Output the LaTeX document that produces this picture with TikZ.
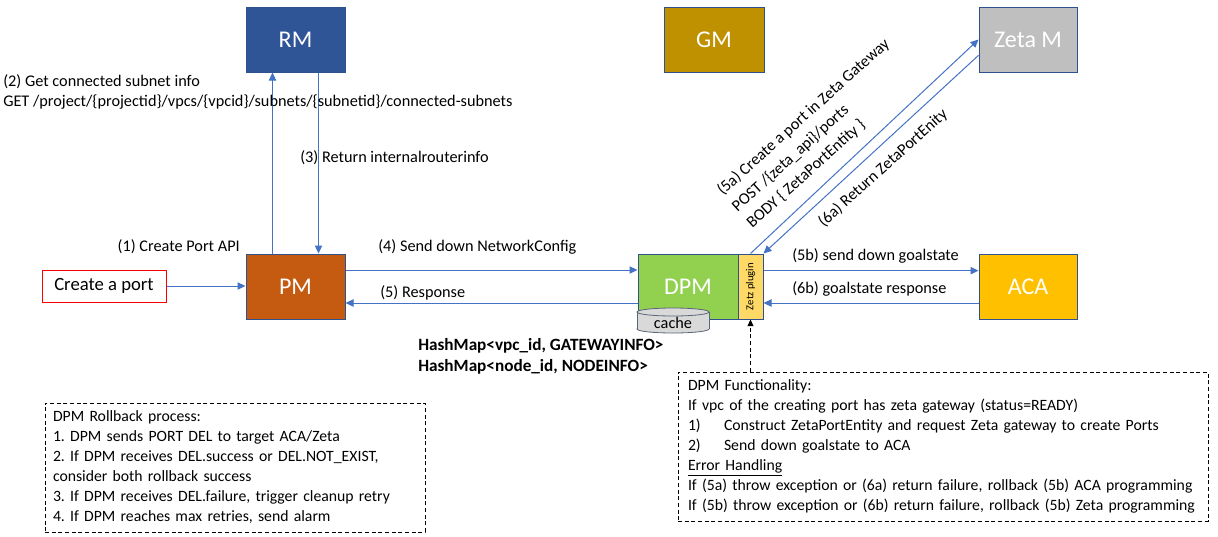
\documentclass[tikz,border=0pt]{standalone}
\usepackage{fontspec}
\setmainfont{Carlito}
\usepackage{xcolor}
\usepackage{tikz}
\usetikzlibrary{arrows.meta}
\usetikzlibrary{calc}
\definecolor{rmblue}{HTML}{2F5597}
\definecolor{edgeblue}{HTML}{2F528F}
\definecolor{pmorange}{HTML}{C55A11}
\definecolor{gmgold}{HTML}{BF9000}
\definecolor{zetagray}{HTML}{BFBFBF}
\definecolor{dpmgreen}{HTML}{92D050}
\definecolor{pluginyellow}{HTML}{FFD966}
\definecolor{acayellow}{HTML}{FFC000}
\definecolor{flowblue}{HTML}{4472C4}
\definecolor{cachegray}{HTML}{D9D9D9}
\definecolor{cacheedge}{HTML}{5B6778}
\frenchspacing
\newcommand{\blockbox}[7]{
	\node[block, fill=#6, minimum width={(#4-#2)*0.75pt}, minimum height={(#5-#3)*0.75pt}]
	(#1) at ({(#2+#4)/2}, {(#3+#5)/2}) {#7};
	}

\begin{document}
\begin{tikzpicture}[x=0.75pt, y=-0.75pt,
	block/.style={draw=edgeblue, line width=0.75pt, inner sep=0pt, text=white, font=\fontsize{18}{21}\selectfont},
	flow/.style={flowblue, line width=0.75pt, -{Triangle[length=6pt, width=5.5pt]}},
	lbl/.style={font=\fontsize{12.2}{15}\selectfont, inner sep=0pt, align=left},
	note/.style={draw, line width=0.6pt, dash pattern=on 3pt off 2pt, align=left, inner ysep=0pt, font=\fontsize{11.8}{15}\selectfont}]

	\useasboundingbox (0,0) rectangle (1218,536);

	% components
	\blockbox{RM}{246}{7}{345}{72}{rmblue}{RM}
	\blockbox{GM}{664}{7}{764}{72}{gmgold}{GM}
	\blockbox{zeta}{979}{7}{1077}{72}{zetagray}{Zeta M}
	\blockbox{PM}{246}{254}{345}{319}{pmorange}{PM}
	\blockbox{DPM}{638}{254}{738}{319}{dpmgreen}{DPM}
	\blockbox{ACA}{979}{254}{1077}{319}{acayellow}{ACA}
	\node[draw=edgeblue, fill=pluginyellow, line width=0.75pt, minimum width=18.75pt, minimum height=48.75pt, inner sep=0pt]
	(plugin) at (750.5,286.5) {};
	\node[rotate=90, font=\fontsize{8}{9}\selectfont, inner sep=0pt] (plugintext) at (plugin) {Zetz plugin};
	\node[draw=red, line width=0.75pt, minimum width=93pt, minimum height=24pt, inner sep=0pt, font=\fontsize{14}{16}\selectfont]
	(create) at (104,286) {Create a port};

	% cache
	\draw[cacheedge, fill=cachegray, line width=0.6pt] (673,329) ellipse [x radius=27pt, y radius=3pt];
	\fill[cachegray] (637,312) rectangle (709,329);
	\draw[cacheedge, line width=0.6pt] (637,312) -- (637,329) (709,312) -- (709,329);
	\draw[cacheedge, fill=cachegray, line width=0.6pt] (673,312) ellipse [x radius=27pt, y radius=3pt];
	\node[lbl] (cache) at (673,323) {cache};

	% calls
	\draw[flow] (create.east) -- (create.east -| PM.west);
	\draw[flow] ($(PM.north west)!0.27!(PM.north east)$) -- ($(RM.south west)!0.27!(RM.south east)$);
	\draw[flow] ($(RM.south west)!0.73!(RM.south east)$) -- ($(PM.north west)!0.73!(PM.north east)$);
	\draw[flow] ($(PM.north east)!0.25!(PM.south east)$) coordinate (send) -- (send -| DPM.west);
	\draw[flow] ($(DPM.north west)!0.75!(DPM.south west)$) coordinate (resp) -- (resp -| PM.east);
	\draw[flow] ($(plugin.north east)!0.26!(plugin.south east)$) coordinate (goal) -- (goal -| ACA.west);
	\draw[flow] ($(ACA.north west)!0.75!(ACA.south west)$) coordinate (goalresp) -- (goalresp -| plugin.east);
	\draw[flow] (plugin.north) -- (zeta.west);
	\draw[flow] ($(zeta.north west)!0.74!(zeta.south west)$) -- (plugin.north east);

	% labels
	\path (3,92) node[lbl, anchor=west] (getinfo) {(2) Get connected subnet info\\GET /project/\{projectid\}/vpcs/\{vpcid\}/subnets/\{subnetid\}/connected-subnets}
	(300,158) node[lbl, anchor=west] (retinfo) {(3) Return internalrouterinfo}
	(240,247) node[lbl, anchor=east] (api) {(1) Create Port API}
	(378,247) node[lbl, anchor=west] (netcfg) {(4) Send down NetworkConfig}
	(380,293) node[lbl, anchor=west] (response) {(5) Response}
	(792,256) node[lbl, anchor=west] (sendgoal) {(5b) send down goalstate}
	(792,289) node[lbl, anchor=west] (goalrsp) {(6b) goalstate response};
	\node[lbl, anchor=west, font=\bfseries\fontsize{12.9}{15.75}\selectfont] (hashmap) at (418,356)
	{HashMap<vpc\_id, GATEWAYINFO>\\HashMap<node\_id, NODEINFO>};
	\node[lbl, rotate=42, anchor=south west, font=\fontsize{12.2}{16.5}\selectfont] (createzeta) at (754,231)
	{(5a) Create a port in Zeta Gateway\\POST /\{zeta\_api\}/ports\\BODY \{ ZetaPortEntity \}};
	\node[lbl, rotate=42] (retzeta) at (883,168) {(6a) Return ZetaPortEnity};

	% notes
	\node[note, inner xsep=7.5pt, text width=382.5pt, minimum height=111.75pt] (func) at (943,446.5)
	{DPM Functionality:\\
	If vpc of the creating port has zeta gateway (status=READY)\\
	\makebox[27pt][l]{1)}Construct ZetaPortEntity and request Zeta gateway to create Ports\\
	\makebox[27pt][l]{2)}Send down goalstate to ACA\\
	\underline{Error Handling}\\
	If (5a) throw exception or (6a) return failure, rollback (5b) ACA programming\\
	If (5b) throw exception or (6b) return failure, rollback (5b) Zeta programming};
	\node[note, inner xsep=6pt, text width=273pt, minimum height=96.75pt] (rollback) at (235,467.5)
	{DPM Rollback process:\\
	1. DPM sends PORT DEL to target ACA/Zeta\\
	2. If DPM receives DEL.success or DEL.NOT\_EXIST,\\
	consider both rollback success\\
	3. If DPM receives DEL.failure, trigger cleanup retry\\
	4. If DPM reaches max retries, send alarm};
	\draw[dash pattern=on 3pt off 2pt, line width=0.6pt, -{Triangle[length=5pt, width=4.5pt]}] (plugin.south |- func.north) -- (plugin.south);

\end{tikzpicture}
\end{document}
